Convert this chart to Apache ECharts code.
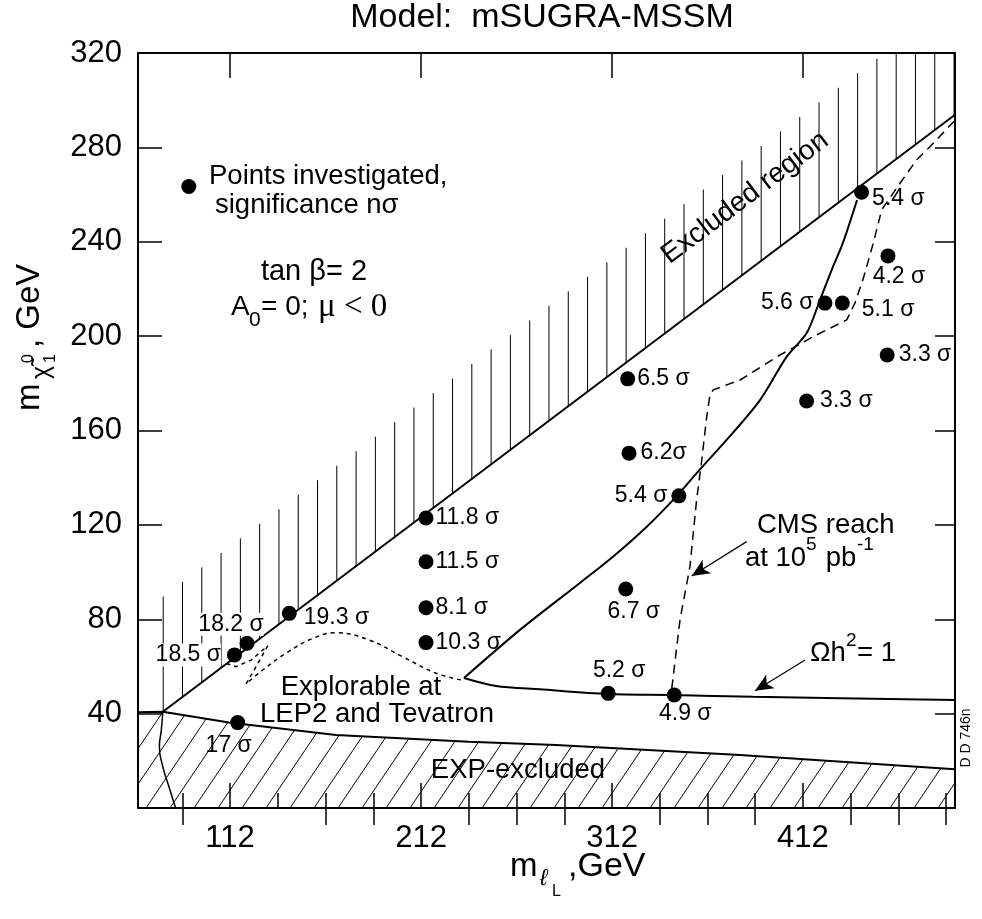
<!DOCTYPE html>
<html><head><meta charset="utf-8">
<script src="https://cdn.jsdelivr.net/npm/echarts@6/dist/echarts.min.js"></script>
<style>html,body{margin:0;padding:0;background:#fff}#c{width:982px;height:919px}</style>
</head><body><div id="c"></div>
<script>
// ---- axis ticks ----
const xTicksMajor = [112, 212, 312, 412];
const xTicksMinor = [87, 137, 162, 187, 237, 262, 287, 337, 362, 387, 437, 462, 487];
const xTicksMinorTop = [87, 162, 187, 237, 262, 287, 337, 362, 387, 437, 462, 487];
const yTicks = [40, 80, 120, 160, 200, 240, 280, 320];

// ---- investigated points (m_slepton_L, m_chi10) and significance ----
const pointsX = [114.3, 120.9, 143.0, 116.0, 214.6, 214.6, 214.6, 214.6, 320.2, 320.9, 347.0, 319.2, 310.0, 344.6, 413.9, 456.1, 423.5, 432.6, 456.5, 442.7];
const pointsY = [64.9, 69.8, 82.5, 36.2, 122.9, 104.4, 84.9, 70.1, 181.9, 150.4, 132.3, 92.8, 48.6, 47.9, 172.5, 192.0, 214.0, 214.0, 234.0, 261.0];
const pointsLabel = ['18.5 σ', '18.2 σ', '19.3 σ', '17 σ', '11.8 σ', '11.5 σ', '8.1 σ', '10.3 σ', '6.5 σ', '6.2σ', '5.4 σ', '6.7 σ', '5.2 σ', '4.9 σ', '3.3 σ', '3.3 σ', '5.6 σ', '5.1 σ', '4.2 σ', '5.4 σ'];
const legendPoint = [[90.4, 263.4]];

// ---- curves ----
const excludedBoundary = [[76.8, 40.8], [491.6, 293.8]];
const expBoundary = [[63.8, 40.6], [76.8, 40.8], [111.5, 36.2], [167.5, 30.9], [237.1, 28.1], [282.7, 26.7], [379.0, 22.5], [491.6, 16.4]];
const leftWavy = [[76.8, 40.8], [76.0, 33.0], [75.0, 26.0], [76.8, 17.5], [80.0, 9.0], [83.5, 0.0]];
const omegaUpper = [[440.3, 257.7], [432.9, 239.5], [427.0, 228.0], [420.9, 215.3], [414.0, 201.4], [403.5, 191.3], [389.5, 172.9], [372.0, 156.0], [357.0, 142.6], [346.5, 132.7], [330.2, 119.2], [312.5, 106.5], [295.2, 95.4], [263.8, 75.5], [234.5, 55.1]];
const omegaLower = [[234.5, 55.1], [251.3, 51.7], [274.3, 50.3], [309.9, 48.3], [343.9, 47.9], [385.8, 47.1], [491.6, 45.8]];
const lepHump = [[232.9, 54.3], [219.9, 57.1], [202.4, 64.1], [184.8, 71.2], [167.5, 74.3], [155.3, 71.9], [141.3, 65.6], [129.1, 58.5], [120.4, 52.6]];
const lepLoop = [[120.4, 52.6], [125.6, 59.9], [131.7, 68.7], [123.0, 62.7], [115.1, 59.9], [109.9, 61.3]];
const cmsReach = [[343.3, 50.7], [347.6, 79.7], [352.8, 102.3], [356.3, 130.6], [359.0, 147.5], [361.6, 165.9], [363.3, 175.1], [365.0, 177.2], [379.0, 181.4], [400.0, 192.0], [417.4, 199.8], [434.9, 206.9], [439.2, 214.0], [443.6, 224.5], [448.8, 239.4], [453.2, 253.5], [462.8, 264.8], [471.5, 274.7], [478.5, 280.3], [491.0, 291.0]];
const cmsArrow = [[382.5, 112.9], [353.7, 98.3]];
const omegaArrow = [[413.1, 62.7], [386.9, 49.7]];

const X_MIN = 63.8, X_MAX = 491.6, Y_MIN = 0, Y_MAX = 320;
const FONT = "'Liberation Sans', Arial, Helvetica, sans-serif";
const SERIF = "'Liberation Serif', 'Times New Roman', serif";

// label placement (style only)
const labelPlace = [
  {position: 'left', distance: 6, bg: true},
  {position: 'top', distance: 2, offset: [-16, 2], bg: true},
  {position: 'right', distance: 7, offset: [0, 4]},
  {position: 'bottom', distance: 4, offset: [-9, 0]},
  {position: 'right', distance: 2},
  {position: 'right', distance: 2},
  {position: 'right', distance: 2},
  {position: 'right', distance: 2},
  {position: 'right', distance: 2},
  {position: 'right', distance: 4},
  {position: 'left', distance: 4},
  {position: 'bottom', distance: 4, offset: [8, 0]},
  {position: 'top', distance: 4, offset: [11, 0]},
  {position: 'bottom', distance: 0, offset: [11, 0]},
  {position: 'right', distance: 6},
  {position: 'right', distance: 4},
  {position: 'left', distance: 4},
  {position: 'right', distance: 12, offset: [0, 7]},
  {position: 'bottom', distance: 2, offset: [11, 0]},
  {position: 'right', distance: 3, offset: [0, 6]}
];

const pointData = pointsX.map((x, i) => {
  const pl = labelPlace[i];
  return {
    value: [x, pointsY[i]],
    label: {
      show: true, formatter: pointsLabel[i], position: pl.position, distance: pl.distance,
      offset: pl.offset || [0, 0],
      backgroundColor: pl.bg ? '#fff' : 'transparent'
    }
  };
});

function lineSeries(data, opts) {
  return Object.assign({
    type: 'line', data: data, showSymbol: false, symbol: 'none', silent: true, animation: false,
    xAxisIndex: 0, yAxisIndex: 0, z: 3,
    lineStyle: {color: '#000', width: 2}
  }, opts || {});
}

const chart = echarts.init(document.getElementById('c'), null, {renderer: 'canvas'});

const option = {
  animation: false,
  backgroundColor: '#fff',
  textStyle: {fontFamily: FONT, color: '#000'},
  grid: {left: 138, top: 53, right: 27, bottom: 111, containLabel: false},
  xAxis: [
    {type: 'value', position: 'bottom', min: X_MIN, max: X_MAX,
     axisLine: {show: true, onZero: false, lineStyle: {color: '#000', width: 2}},
     axisTick: {show: true, inside: true, length: 25, customValues: xTicksMajor, lineStyle: {color: '#000', width: 1.5}},
     axisLabel: {show: true, customValues: xTicksMajor, fontSize: 31, color: '#000', margin: 15, fontFamily: FONT},
     splitLine: {show: false}},
    {type: 'value', position: 'bottom', min: X_MIN, max: X_MAX,
     axisLine: {show: false},
     axisTick: {show: true, inside: true, length: 15, customValues: xTicksMinor, lineStyle: {color: '#000', width: 1.5}},
     axisLabel: {show: false}, splitLine: {show: false}},
    {type: 'value', position: 'top', min: X_MIN, max: X_MAX,
     axisLine: {show: true, onZero: false, lineStyle: {color: '#000', width: 2}},
     axisTick: {show: true, inside: true, length: 25, customValues: xTicksMajor, lineStyle: {color: '#000', width: 1.5}},
     axisLabel: {show: false}, splitLine: {show: false}},
    {type: 'value', position: 'top', min: X_MIN, max: X_MAX,
     axisLine: {show: false},
     axisTick: {show: true, inside: true, length: 17, customValues: xTicksMinorTop, lineStyle: {color: '#000', width: 1.5}},
     axisLabel: {show: false}, splitLine: {show: false}}
  ],
  yAxis: [
    {type: 'value', position: 'left', min: Y_MIN, max: Y_MAX, interval: 40,
     axisLine: {show: true, onZero: false, lineStyle: {color: '#000', width: 2}},
     axisTick: {show: true, inside: true, length: 24, customValues: yTicks, lineStyle: {color: '#000', width: 1.5}},
     axisLabel: {show: true, customValues: yTicks, fontSize: 31, color: '#000', margin: 16, fontFamily: FONT},
     splitLine: {show: false}},
    {type: 'value', position: 'right', min: Y_MIN, max: Y_MAX, interval: 40,
     axisLine: {show: true, onZero: false, lineStyle: {color: '#000', width: 2}},
     axisTick: {show: true, inside: true, length: 20, customValues: yTicks, lineStyle: {color: '#000', width: 1.5}},
     axisLabel: {show: false}, splitLine: {show: false}}
  ],
  series: [
    // vertical hatching above the excluded-region boundary
    {type: 'custom', coordinateSystem: 'cartesian2d', xAxisIndex: 0, yAxisIndex: 0, silent: true, z: 1,
     data: [[X_MIN, Y_MIN]],
     renderItem: function (params, api) {
       const a = excludedBoundary[0], b = excludedBoundary[1];
       const topPx = api.coord([X_MIN, Y_MAX])[1];
       const children = [];
       for (let x = 77; x < X_MAX; x += 10.1) {
         const yb = a[1] + (b[1] - a[1]) * (x - a[0]) / (b[0] - a[0]);
         const p0 = api.coord([x, yb]);
         const p1 = api.coord([x, yb + 48.7]);
         const y1 = Math.max(p1[1], topPx);
         if (y1 >= p0[1] - 2) continue;
         children.push({type: 'line', shape: {x1: p0[0], y1: p0[1], x2: p0[0], y2: y1},
           style: {stroke: '#000', lineWidth: 1}});
       }
       return {type: 'group', children: children};
     }},
    // diagonal hatching of the EXP-excluded region
    {type: 'custom', coordinateSystem: 'cartesian2d', xAxisIndex: 0, yAxisIndex: 0, silent: true, z: 1,
     data: [[X_MIN, Y_MIN]],
     renderItem: function (params, api) {
       const last = expBoundary[expBoundary.length - 1];
       const polyD = [[X_MIN, Y_MIN]].concat(expBoundary).concat([[X_MAX, last[1]], [X_MAX, Y_MIN]]);
       const poly = polyD.map(p => api.coord(p));
       const ang = 56 * Math.PI / 180;
       const dx = Math.cos(ang), dy = -Math.sin(ang);
       const yB = poly[0][1];
       const xL = poly[0][0], xR = api.coord([X_MAX, Y_MIN])[0];
       const children = [];
       for (let xb = xL + 8 - 24 * 30; xb < xR; xb += 24) {
         const ts = [];
         for (let i = 0; i < poly.length; i++) {
           const p = poly[i], q = poly[(i + 1) % poly.length];
           const ex = q[0] - p[0], ey = q[1] - p[1];
           const den = dx * ey - dy * ex;
           if (Math.abs(den) < 1e-9) continue;
           const wx = p[0] - xb, wy = p[1] - yB;
           const t = (wx * ey - wy * ex) / den;
           const s = (wx * dy - wy * dx) / den;
           if (s >= 0 && s < 1 && t > -1e-6) ts.push(t);
         }
         ts.sort((m, n) => m - n);
         for (let k = 0; k + 1 < ts.length; k += 2) {
           const t0 = ts[k], t1 = ts[k + 1];
           if (t1 - t0 < 1) continue;
           children.push({type: 'line', shape: {x1: xb + dx * t0, y1: yB + dy * t0, x2: xb + dx * t1, y2: yB + dy * t1},
             style: {stroke: '#000', lineWidth: 1}});
         }
       }
       return {type: 'group', children: children};
     }},
    lineSeries(excludedBoundary),
    lineSeries(expBoundary),
    lineSeries(leftWavy, {smooth: 0.5, lineStyle: {color: '#000', width: 1.5}}),
    lineSeries(omegaUpper, {smooth: 0.3}),
    lineSeries(omegaLower, {smooth: 0.3}),
    lineSeries(lepHump, {smooth: 0.4, lineStyle: {color: '#000', width: 1.5, type: [4, 4]}}),
    lineSeries(lepLoop, {lineStyle: {color: '#000', width: 1.5, type: [4, 4]}}),
    lineSeries(cmsReach, {lineStyle: {color: '#000', width: 1.5, type: [9, 6]}}),
    // arrows
    {type: 'line', data: [], xAxisIndex: 0, yAxisIndex: 0, silent: true, z: 3,
     markLine: {silent: true, symbol: ['none', 'arrow'], symbolSize: [12, 18], animation: false,
       label: {show: false}, lineStyle: {color: '#000', width: 1.2, type: 'solid', opacity: 1},
       itemStyle: {color: '#000'},
       data: [
         [{coord: cmsArrow[0]}, {coord: cmsArrow[1]}],
         [{coord: omegaArrow[0]}, {coord: omegaArrow[1]}]
       ]}},
    // points
    {type: 'scatter', data: pointData, xAxisIndex: 0, yAxisIndex: 0, symbol: 'circle', symbolSize: 15, z: 5,
     silent: true,
     itemStyle: {color: '#000', opacity: 1},
     label: {color: '#000', fontSize: 23, fontFamily: FONT, padding: [0, 0, 0, 0], opacity: 1}},
    {type: 'scatter', data: legendPoint, xAxisIndex: 0, yAxisIndex: 0, symbol: 'circle', symbolSize: 15, z: 5,
     silent: true, itemStyle: {color: '#000', opacity: 1}}
  ],
  graphic: []
};

function txt(x, y, text, size, extra) {
  return Object.assign({type: 'text', x: x, y: y, z: 10, silent: true,
    style: Object.assign({text: text, fontSize: size, fontFamily: FONT, fill: '#000', align: 'left', verticalAlign: 'middle'}, (extra && extra.style) || {})},
    extra && extra.rotation !== undefined ? {rotation: extra.rotation} : {});
}

option.graphic = [
  txt(542, 18, 'Model:  mSUGRA-MSSM', 34, {style: {align: 'center'}}),
  txt(209, 176, 'Points investigated,', 27.5),
  txt(215, 205, 'significance nσ', 27.5),
  txt(314, 272, 'tan β= 2', 29, {style: {align: 'center'}}),
  txt(231, 307, 'A', 28),
  txt(249, 320, '0', 21),
  txt(261, 307, '= 0;', 28),
  txt(318, 307, 'μ < 0', 33, {style: {fontFamily: SERIF}}),
  {type: 'text', x: 745, y: 198, rotation: 37 * Math.PI / 180, z: 10, silent: true,
   style: {text: 'Excluded region', fontSize: 28, fontFamily: FONT, fill: '#000', align: 'center', verticalAlign: 'middle'}},
  txt(361, 687, 'Explorable at', 27.5, {style: {align: 'center'}}),
  txt(377, 714, 'LEP2 and Tevatron', 27.5, {style: {align: 'center'}}),
  txt(518, 770, 'EXP-excluded', 27.5, {style: {align: 'center'}}),
  txt(757, 525, 'CMS reach', 27.5),
  txt(745, 558, 'at 10', 27.5),
  txt(806, 545, '5', 19),
  txt(818, 558, ' pb', 27.5),
  txt(857, 545, '-1', 19),
  txt(810, 653, 'Ωh', 27.5),
  txt(846, 641, '2', 19),
  txt(857, 653, '= 1', 27.5),
  {type: 'text', x: 966, y: 738, rotation: Math.PI / 2, z: 10, silent: true,
   style: {text: 'D D 746n', fontSize: 14, fontFamily: FONT, fill: '#000', align: 'center', verticalAlign: 'middle'}},
  // x axis name
  txt(510, 867, 'm', 33),
  txt(540, 879, 'ℓ', 23, {style: {fontStyle: 'italic'}}),
  txt(552, 892, 'L', 16),
  txt(568, 867, ',GeV', 34),
  // y axis name (rotated)
  {type: 'group', x: 30, y: 326, rotation: Math.PI / 2, z: 10, silent: true,
   children: [
     {type: 'text', x: -85, y: 0, style: {text: 'm', fontSize: 33, fontFamily: FONT, fill: '#000', align: 'left', verticalAlign: 'middle'}},
     {type: 'text', x: -53, y: 12, style: {text: 'χ̃', fontSize: 25, fontFamily: FONT, fill: '#000', align: 'left', verticalAlign: 'middle'}},
     {type: 'text', x: -37, y: -1, style: {text: '0', fontSize: 16, fontFamily: FONT, fill: '#000', align: 'left', verticalAlign: 'middle'}},
     {type: 'text', x: -37, y: 21, style: {text: '1', fontSize: 16, fontFamily: FONT, fill: '#000', align: 'left', verticalAlign: 'middle'}},
     {type: 'text', x: -22, y: 0, style: {text: ', GeV', fontSize: 33, fontFamily: FONT, fill: '#000', align: 'left', verticalAlign: 'middle'}}
   ]}
];

chart.setOption(option);
</script>
</body></html>
